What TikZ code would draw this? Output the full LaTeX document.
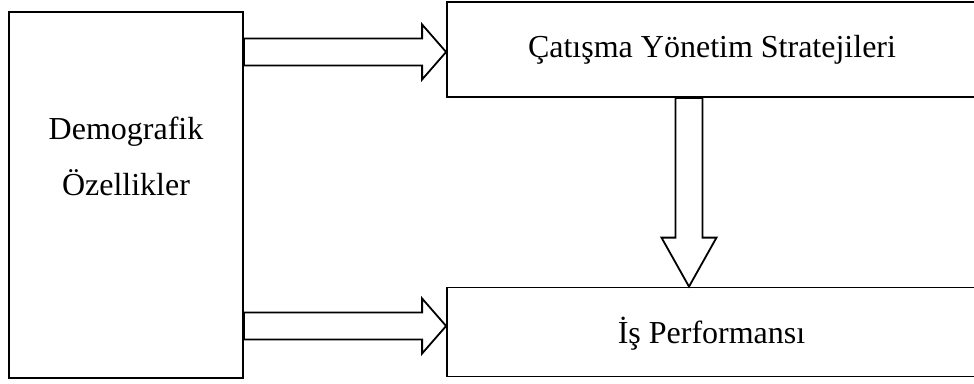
\documentclass[tikz,border=0pt]{standalone}
\usepackage{fontspec}
\setmainfont{Liberation Serif}
\usetikzlibrary{calc}
\tikzset{
  box/.style={draw,line width=1.8pt,inner sep=0pt,font=\fontsize{32}{38}\selectfont},
  label text/.style={font=\fontsize{32}{38}\selectfont,anchor=base},
  hollow/.style={draw,fill=white,line width=1.8pt,line join=miter}
}
\newcommand{\hollowright}[2]{%
  \draw[hollow] (#2) -- ++(-24,-27.5) -- ++(0,14) coordinate (hs) -- (hs -| #1.east)
    -- ++(0,27) coordinate (ht) -- (ht -| hs) -- ++(0,14) -- cycle;}

\begin{document}
\begin{tikzpicture}[x=1pt,y=-1pt]
  \useasboundingbox (0,0) rectangle (974,383);
  \clip (0,0) rectangle (974,383);
  \node[box,minimum width=234pt,minimum height=366pt] (demo) at (126,195) {};
  \node[label text] (demoa) at (126,139) {Demografik};
  \node[label text] (demob) at (126,195) {Özellikler};
  \node[box,minimum width=529pt,minimum height=95pt] (strat) at (711.5,49.5) {};
  \node[label text] (strattext) at (712,57) {Çatışma Yönetim Stratejileri};
  \node[box,minimum width=529pt,minimum height=89pt] (perf) at (711.5,332) {};
  \node[label text] (perftext) at (711.5,343) {İş Performansı};
  \coordinate (tipa) at (strat.west |- 0,52);
  \coordinate (tipb) at (perf.west |- 0,326);
  \coordinate (tipv) at (689,0 |- perf.north);
  \hollowright{demo}{tipa}
  \hollowright{demo}{tipb}
  \draw[hollow] (tipv) -- ++(-27.5,-49) -- ++(14,0) coordinate (vs) -- (vs |- strat.south)
    -- ++(27,0) coordinate (vt) -- (vt |- vs) -- ++(14,0) -- cycle;
\end{tikzpicture}
\end{document}
